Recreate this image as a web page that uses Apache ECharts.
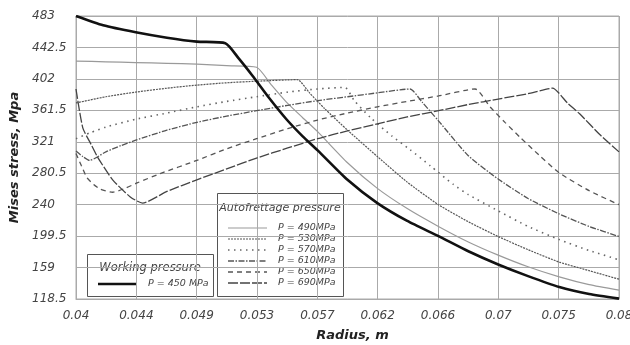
<!DOCTYPE html>
<html>
<head>
<meta charset="utf-8">
<script src="https://cdn.jsdelivr.net/npm/echarts@6/dist/echarts.min.js"></script>
<style>
  html, body { margin: 0; padding: 0; background: #fff; }
  #chart { width: 630px; height: 345px; }
</style>
</head>
<body>
<div id="chart"></div>
<script>
// tick labels as printed on the original
var xTickLabels = ["0.04", "0.044", "0.049", "0.053", "0.057", "0.062", "0.066", "0.07", "0.075", "0.08"];
var yTickLabels = ["118.5", "159", "199.5", "240", "280.5", "321", "361.5", "402", "442.5", "483"];

// [radius m, Mises stress MPa]
var work450 = [[0.04,483],[0.042,471],[0.0444,462],[0.0467,455],[0.0489,450],[0.051,448],[0.052,428],[0.053,406],[0.0542,378],[0.0555,350],[0.0567,328],[0.0578,310],[0.06,272],[0.0622,242],[0.0644,219],[0.0667,199.5],[0.0689,180],[0.0711,163],[0.0733,148],[0.0756,134],[0.0778,125],[0.08,119]];
var auto490 = [[0.04,425],[0.0422,424],[0.0444,423],[0.0467,422],[0.0489,421],[0.0511,419],[0.0533,417],[0.0544,394],[0.0555,372],[0.0567,352],[0.0578,334],[0.06,294],[0.0622,261],[0.0644,235],[0.0667,212],[0.0689,192],[0.0711,175],[0.0733,160],[0.0756,147],[0.0778,137],[0.08,130]];
var auto530 = [[0.04,371],[0.0422,379],[0.0444,385],[0.0467,390],[0.0489,394],[0.0511,397],[0.0533,399],[0.0563,401],[0.0572,384],[0.0583,364],[0.06,336],[0.0622,302],[0.0644,269],[0.0667,240],[0.0689,218],[0.0711,199],[0.0733,182],[0.0756,166],[0.0778,155],[0.08,144]];
var auto570 = [[0.04,325],[0.0411,333],[0.0422,340],[0.0444,350],[0.0467,358],[0.0489,366],[0.0511,373],[0.0533,379],[0.0556,385],[0.0578,389],[0.0598,391],[0.0605,374],[0.0617,352],[0.0633,328],[0.0646,311],[0.0661,290],[0.0678,266],[0.0689,253],[0.0711,232],[0.0733,212],[0.0756,195],[0.0778,181],[0.08,169]];
var auto610 = [[0.04,309],[0.0405,302],[0.041,297],[0.0422,308],[0.0433,316],[0.0444,323],[0.0467,336],[0.0489,346],[0.0511,354],[0.0533,361],[0.0556,368],[0.0578,374],[0.06,379],[0.0622,384],[0.0646,389],[0.0655,372],[0.0667,348],[0.0689,303],[0.0711,273],[0.0733,248],[0.0756,228],[0.0778,212],[0.08,199]];
var auto650 = [[0.04,306],[0.0404,290],[0.0408,275],[0.0413,266],[0.0418,260],[0.0427,256],[0.0436,261],[0.0445,268],[0.0462,280],[0.0489,297],[0.0511,312],[0.0533,325],[0.0556,338],[0.0578,349],[0.06,358],[0.0622,366],[0.0644,373],[0.0667,380],[0.0694,389],[0.0705,366],[0.0716,346],[0.0727,327],[0.0741,304],[0.0756,281],[0.0778,258],[0.08,240]];
var auto690 = [[0.04,389],[0.0405,339],[0.0411,318],[0.0416,301],[0.0427,272],[0.044,250],[0.0449,242],[0.0467,257],[0.0489,272],[0.0511,286],[0.0533,300],[0.0556,313],[0.0578,325],[0.06,335],[0.0622,344],[0.0644,353],[0.0667,361],[0.0689,369],[0.0711,376],[0.0733,383],[0.0751,390],[0.0762,371],[0.0771,357],[0.0786,330],[0.08,308]];

var autoNames = ["P = 490MPa", "P = 530MPa", "P = 570MPa", "P = 610MPa", "P = 650MPa", "P = 690MPa"];
var autoData = [auto490, auto530, auto570, auto610, auto650, auto690];
var autoStyles = [
  { color: "#9a9a9a", width: 1.2, type: "solid" },
  { color: "#555", width: 1.2, type: [2, 1] },
  { color: "#666", width: 1.6, type: [1.5, 4.5] },
  { color: "#555", width: 1.3, type: [6, 1.5, 1.5, 1.5] },
  { color: "#555", width: 1.3, type: [5, 4] },
  { color: "#444", width: 1.3, type: [10, 2] }
];
var workStyle = { color: "#111", width: 2.6, type: "solid" };

var font = "DejaVu Sans";
var gridColor = "#aaa";

var series = [];
for (var i = 0; i < autoData.length; i++) {
  series.push({
    name: autoNames[i], type: "line", xAxisIndex: 0, yAxisIndex: 0,
    data: autoData[i], symbol: "none", smooth: 0.2,
    lineStyle: autoStyles[i], z: 3
  });
}
series.push({
  name: "P = 450 MPa", type: "line", xAxisIndex: 0, yAxisIndex: 0,
  data: work450, symbol: "none", smooth: 0.2,
  lineStyle: workStyle, z: 4
});

// legend boxes drawn by hand (two framed blocks with titles)
var legendChildren = [
  { type: "rect", shape: { x: 217.5, y: 193.5, width: 126, height: 103 },
    style: { fill: "#fff", stroke: "#555", lineWidth: 1 } },
  { type: "text", x: 280, y: 208, style: { text: "Autofrettage pressure", fill: "#444",
    font: "italic 11px '" + font + "'", align: "center", verticalAlign: "middle" } },
  { type: "rect", shape: { x: 87.5, y: 254.5, width: 126, height: 42 },
    style: { fill: "#fff", stroke: "#555", lineWidth: 1 } },
  { type: "text", x: 150, y: 268, style: { text: "Working pressure", fill: "#444",
    font: "italic 11.5px '" + font + "'", align: "center", verticalAlign: "middle" } },
  { type: "line", shape: { x1: 98, y1: 284, x2: 137, y2: 284 },
    style: { stroke: workStyle.color, lineWidth: workStyle.width } },
  { type: "text", x: 148, y: 284, style: { text: "P = 450 MPa", fill: "#444",
    font: "italic 9.5px '" + font + "'", align: "left", verticalAlign: "middle" } }
];
for (var k = 0; k < autoNames.length; k++) {
  var ly = 228 + k * 11;
  var st = autoStyles[k];
  legendChildren.push({ type: "line", shape: { x1: 228, y1: ly, x2: 267, y2: ly },
    style: { stroke: st.color, lineWidth: st.width, lineDash: st.type === "solid" ? null : st.type } });
  legendChildren.push({ type: "text", x: 278, y: ly, style: { text: autoNames[k], fill: "#444",
    font: "italic 9.5px '" + font + "'", align: "left", verticalAlign: "middle" } });
}

var chart = echarts.init(document.getElementById("chart"), null, { renderer: "canvas" });
chart.setOption({
  animation: false,
  backgroundColor: "#fff",
  textStyle: { fontFamily: font },
  grid: { left: 76, right: 11, top: 16, bottom: 46, outerBoundsMode: "none",
    show: true, borderColor: gridColor, borderWidth: 1 },
  xAxis: [
    { type: "value", min: 0.04, max: 0.08, show: false },
    {
      type: "category", data: xTickLabels, boundaryGap: false, position: "bottom",
      axisLine: { lineStyle: { color: gridColor } },
      axisTick: { show: false },
      splitLine: { show: true, lineStyle: { color: gridColor, width: 1 } },
      axisLabel: { interval: 0, fontStyle: "italic", color: "#444", fontSize: 12, margin: 11, fontFamily: font },
      name: "Radius, m", nameLocation: "middle", nameGap: 30,
      nameTextStyle: { fontWeight: "bold", fontStyle: "italic", fontSize: 13, color: "#222", fontFamily: font, padding: [0, 0, 0, 10] }
    }
  ],
  yAxis: [
    { type: "value", min: 118.5, max: 483, show: false },
    {
      type: "category", data: yTickLabels, boundaryGap: false, position: "left",
      axisLine: { lineStyle: { color: gridColor } },
      axisTick: { show: false },
      splitLine: { show: true, lineStyle: { color: gridColor, width: 1 } },
      axisLabel: { interval: 0, fontStyle: "italic", color: "#444", fontSize: 12, margin: 44, align: "left", fontFamily: font, padding: [6, 0, 0, 0] },
      name: "Mises stress, Mpa", nameLocation: "middle", nameGap: 55, nameRotate: 90,
      nameTextStyle: { fontWeight: "bold", fontStyle: "italic", fontSize: 13, color: "#222", fontFamily: font }
    }
  ],
  series: series,
  graphic: [{ type: "group", z: 100, children: legendChildren }]
});
</script>
</body>
</html>
